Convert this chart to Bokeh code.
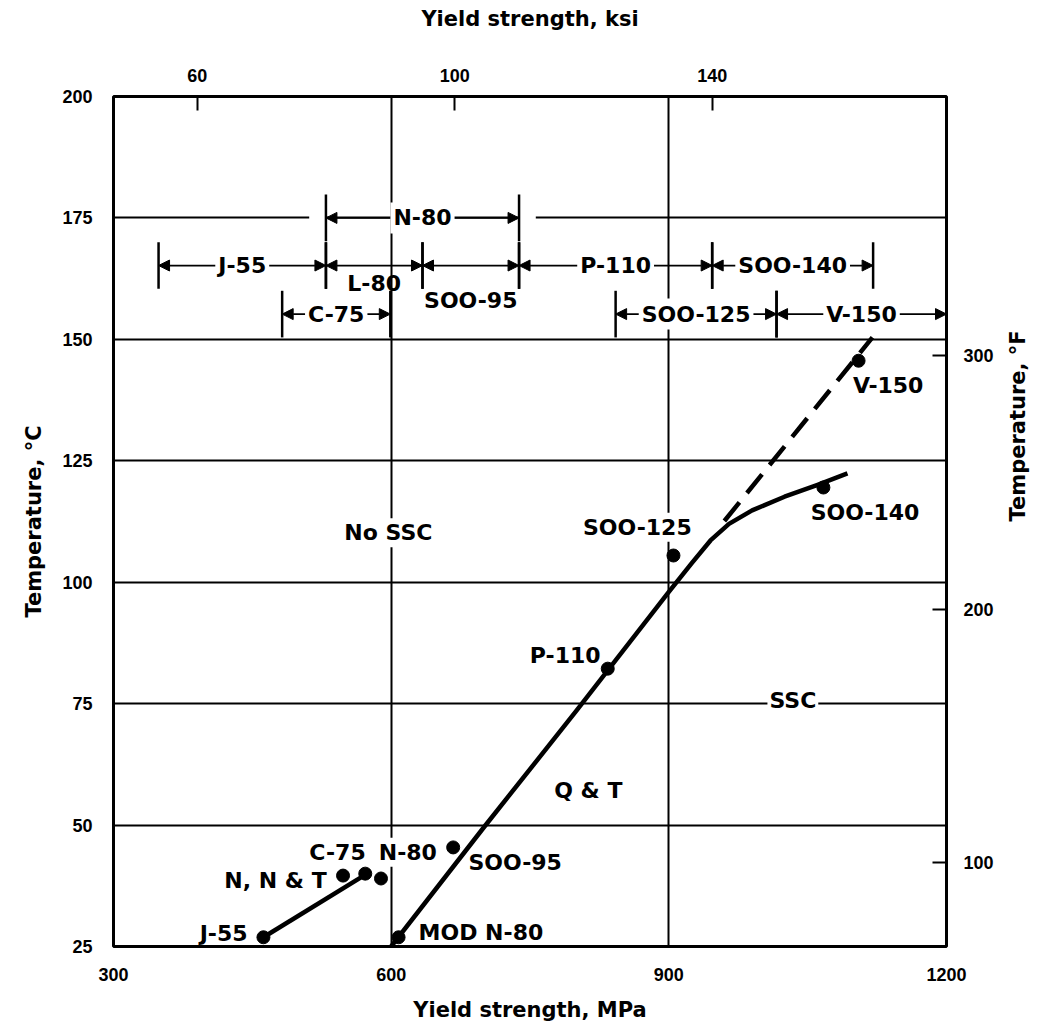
import math
from bokeh.plotting import figure
from bokeh.models import (Range1d, LinearAxis, FixedTicker, Arrow, NormalHead, Label,
                          ColumnDataSource, BoxAnnotation)
from bokeh.embed import file_html
from bokeh.resources import INLINE

# ---------------- data ----------------
mpa_ticks = [300, 600, 900, 1200]
degc_ticks = [25, 50, 75, 100, 125, 150, 175, 200]
ksi_ticks = [60, 100, 140]
degf_ticks = [100, 200, 300]
mpa_grid = [600, 900]
degc_grid = [50, 75, 100, 125, 150, 175]

point_mpa = [462, 548, 572, 589, 608, 667, 834, 905, 1067, 1105]
point_degc = [26.9, 39.6, 40.0, 39.0, 26.9, 45.4, 82.2, 105.5, 119.5, 145.6]

nnt_mpa = [462, 574]
nnt_degc = [26.9, 40.0]

qt_mpa = [600, 700, 800, 900, 925, 945, 965, 990, 1025, 1060, 1093]
qt_degc = [25, 49.5, 73.5, 98, 104.0, 108.6, 112.0, 114.8, 117.6, 120.0, 122.4]

v150_mpa = [960, 1120]
v150_degc = [112.6, 150.4]

label_text = ["No SSC", "SSC", "Q & T", "J-55", "N, N & T", "C-75", "N-80",
              "MOD N-80", "SOO-95", "P-110", "SOO-125", "SOO-140", "V-150"]
label_mpa = [597, 1034, 813, 419, 475, 542, 618, 697, 734, 788, 866, 1112, 1137]
label_degc = [110.2, 75.6, 57.1, 27.7, 38.6, 44.4, 44.4, 27.9, 42.3, 84.9, 111.3, 114.4, 140.5]

band_name = ["N-80", "J-55", "L-80", "SOO-95", "P-110", "SOO-140", "C-75", "SOO-125", "V-150"]
band_from_ksi = [80, 54, 80, 95, 110, 140, 73.2, 125, 150]
band_to_ksi = [110, 80, 95, 110, 140, 165, 90, 150, 176.4]
band_row = [0, 1, 1, 1, 1, 1, 2, 2, 2]

# ---------------- layout / style ----------------
ROW_Y = [175, 165.2, 155.2]
BAR_HALF = 4.8
BELOW = {"L-80": -18, "SOO-95": -35}
BG_LABELS = {"No SSC", "SSC", "SOO-125", "N-80"}

LABEL_FONT = "DejaVu Sans"
TICK_FONT = "Liberation Sans"

W, H = 1046, 1027
FL, FT, FW, FH = 113, 96, 833, 850
p = figure(width=W, height=H, output_backend="svg", toolbar_location=None,
           x_range=Range1d(300, 1200), y_range=Range1d(25, 200),
           min_border_left=FL, min_border_right=W - FL - FW,
           min_border_top=FT, min_border_bottom=H - FT - FH,
           x_axis_label="Yield strength, MPa", y_axis_label="Temperature, °C")
bottom = p.below[0]
left = p.left[0]
p.extra_x_ranges = {"ksi": Range1d(47.0, 176.4)}
p.extra_y_ranges = {"degf": Range1d(67.0, 402.2)}

p.outline_line_color = "black"
p.outline_line_width = 3
p.background_fill_color = "white"
p.border_fill_color = "white"

bottom.ticker = FixedTicker(ticks=mpa_ticks)
left.ticker = FixedTicker(ticks=degc_ticks)

top = LinearAxis(x_range_name="ksi", ticker=FixedTicker(ticks=ksi_ticks),
                 axis_label="Yield strength, ksi")
p.add_layout(top, "above")
right = LinearAxis(y_range_name="degf", ticker=FixedTicker(ticks=degf_ticks),
                   axis_label="Temperature, °F")
p.add_layout(right, "right")
try:
    right.axis_label_orientation = math.pi / 2
except Exception:
    pass

for ax in [bottom, left, top, right]:
    ax.axis_line_color = None
    ax.major_tick_out = 0
    ax.major_tick_in = 0
    ax.minor_tick_in = 0
    ax.minor_tick_out = 0
    ax.major_label_text_font = TICK_FONT
    ax.major_label_text_font_style = "bold"
    ax.major_label_text_font_size = "18px"
    ax.major_label_text_color = "black"
    ax.axis_label_text_font = LABEL_FONT
    ax.axis_label_text_font_style = "bold"
    ax.axis_label_text_font_size = "21px"
    ax.axis_label_text_color = "black"

for ax in [top, right]:
    ax.major_tick_in = 14
    ax.major_tick_line_color = "black"
    ax.major_tick_line_width = 2

left.major_label_standoff = 21
left.axis_label_standoff = 13
bottom.major_label_standoff = 21
bottom.axis_label_standoff = 14
top.major_label_standoff = 15
top.axis_label_standoff = 35
right.major_label_standoff = 17
right.axis_label_standoff = 21

p.xgrid.ticker = FixedTicker(ticks=mpa_grid)
p.ygrid.ticker = FixedTicker(ticks=degc_grid)
p.grid.grid_line_color = "black"
p.grid.grid_line_width = 2
p.grid.grid_line_alpha = 1

# gaps in the 175 line beside the N-80 band
for a, b in [(77.4, 80), (110, 112.6)]:
    p.add_layout(BoxAnnotation(left=a, right=b, bottom=174.2, top=175.8, x_range_name="ksi",
                               fill_color="white", fill_alpha=1, line_color=None,
                               level="underlay"))

# ---------------- curves & points ----------------
p.line(nnt_mpa, nnt_degc, line_color="black", line_width=4.5)
p.line(qt_mpa, qt_degc, line_color="black", line_width=4.5, line_join="round")
p.line(v150_mpa, v150_degc, line_color="black", line_width=4.5, line_dash="24 12")
p.scatter(point_mpa, point_degc, marker="circle", size=13, color="black")

# ---------------- grade bands (top, in ksi) ----------------
bx, by0, by1 = [], [], []
for f, t, r in zip(band_from_ksi, band_to_ksi, band_row):
    for xv in (f, t):
        bx.append(xv)
        by0.append(ROW_Y[r] - BAR_HALF)
        by1.append(ROW_Y[r] + BAR_HALF)
p.segment(x0=bx, y0=by0, x1=bx, y1=by1, x_range_name="ksi",
          line_color="black", line_width=2.5)

arrow_src = ColumnDataSource(dict(
    x0=band_from_ksi, x1=band_to_ksi,
    y=[ROW_Y[r] for r in band_row]))
p.add_layout(Arrow(x_start="x0", y_start="y", x_end="x1", y_end="y", source=arrow_src,
                   x_range_name="ksi", line_color="black", line_width=1.8,
                   start=NormalHead(size=11, fill_color="black", line_color="black"),
                   end=NormalHead(size=11, fill_color="black", line_color="black")))

for name, f, t, r in zip(band_name, band_from_ksi, band_to_ksi, band_row):
    cx = (f + t) / 2
    if name in BELOW:
        lab = Label(x=cx, y=ROW_Y[r], y_offset=BELOW[name], text=name, x_range_name="ksi",
                    text_align="center", text_baseline="middle",
                    text_font=LABEL_FONT, text_font_style="bold", text_font_size="22px",
                    text_color="black")
    else:
        lab = Label(x=cx, y=ROW_Y[r], text=name, x_range_name="ksi",
                    text_align="center", text_baseline="middle",
                    text_font=LABEL_FONT, text_font_style="bold", text_font_size="22px",
                    text_color="black", background_fill_color="white",
                    background_fill_alpha=1, padding=3)
    p.add_layout(lab)

# ---------------- in-plot labels ----------------
for txt, xm, yc in zip(label_text, label_mpa, label_degc):
    kw = {}
    if txt in BG_LABELS:
        kw = dict(background_fill_color="white", background_fill_alpha=1, padding=2)
    p.add_layout(Label(x=xm, y=yc, text=txt, text_align="center", text_baseline="middle",
                       text_font=LABEL_FONT, text_font_style="bold", text_font_size="22px",
                       text_color="black", **kw))

open("out.html", "w").write(file_html(p, INLINE))
